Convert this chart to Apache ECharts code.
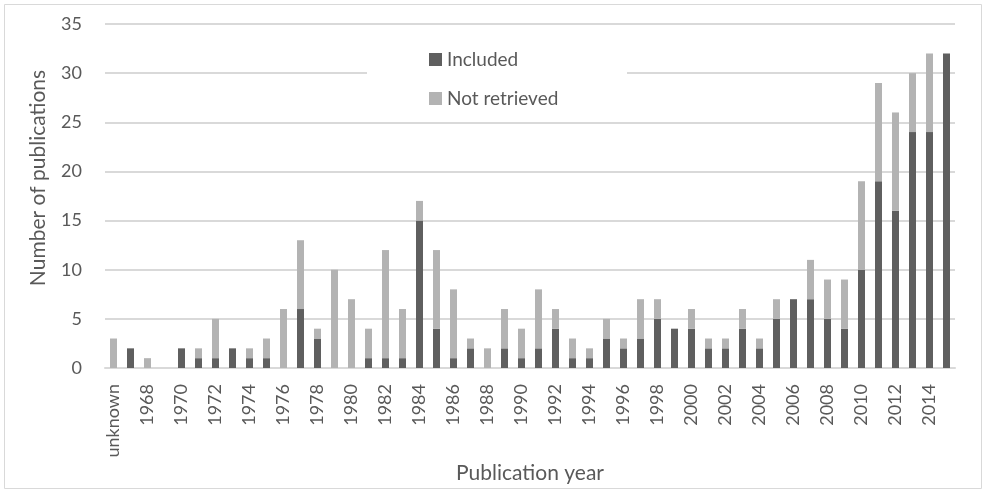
<!DOCTYPE html>
<html><head><meta charset="utf-8">
<script src="https://cdn.jsdelivr.net/npm/echarts@6/dist/echarts.min.js"></script>
<style>html,body{margin:0;padding:0;background:#fff}#c{width:982px;height:489px}</style>
</head><body><div id="c"></div>
<script>
const categories = ['unknown','1967','1968','1969','1970','1971','1972','1973','1974','1975','1976','1977','1978','1979','1980','1981','1982','1983','1984','1985','1986','1987','1988','1989','1990','1991','1992','1993','1994','1995','1996','1997','1998','1999','2000','2001','2002','2003','2004','2005','2006','2007','2008','2009','2010','2011','2012','2013','2014','2015'];
const included     = [0,2,0,0,2,1,1,2,1,1,0,6,3,0,0,1,1,1,15,4,1,2,0,2,1,2,4,1,1,3,2,3,5,4,4,2,2,4,2,5,7,7,5,4,10,19,16,24,24,32];
const notRetrieved = [3,0,1,0,0,1,4,0,1,2,6,7,1,10,7,3,11,5,2,8,7,1,2,4,3,6,2,2,1,2,1,4,2,0,2,1,1,2,1,2,0,4,4,5,9,10,10,6,8,0];
const yTicks = [0,5,10,15,20,25,30,35];
const xTitle = 'Publication year';
const yTitle = 'Number of publications';

const FONT = 'Lato';
const chart = echarts.init(document.getElementById('c'), null, {renderer:'canvas'});
chart.setOption({
  animation:false,
  textStyle:{fontFamily:FONT},
  graphic:[
    {type:'rect', left:2, top:2, shape:{width:977, height:484}, style:{fill:'none', stroke:'#d9d9d9', lineWidth:1}, z:-1},
    {type:'rect', left:367, top:34, shape:{width:260, height:80}, style:{fill:'#fff'}, z:5},
    {type:'text', x:38, y:178, rotation:Math.PI/2, style:{text:yTitle, font:'21px Lato', fill:'#595959', textAlign:'center', textVerticalAlign:'middle'}, z:10},
    {type:'text', x:530, y:473, style:{text:xTitle, font:'21px Lato', fill:'#595959', textAlign:'center', textVerticalAlign:'middle'}, z:10}
  ],
  legend:{
    orient:'vertical', left:424, top:45, itemGap:20, itemWidth:13, itemHeight:13, icon:'rect', z:10,
    textStyle:{fontFamily:FONT, fontSize:19, color:'#595959'},
    data:['Included','Not retrieved']
  },
  grid:{left:105, right:27, top:24, bottom:121, containLabel:false},
  xAxis:{
    type:'category', data:categories,
    axisLine:{show:true, lineStyle:{color:'#d9d9d9', width:2}},
    axisTick:{show:false},
    axisLabel:{interval:1, rotate:90, margin:16, fontFamily:FONT, fontSize:18, color:'#595959'}
  },
  yAxis:{
    type:'value', min:0, max:35, interval:5,
    axisLine:{show:false}, axisTick:{show:false},
    axisLabel:{margin:23, fontFamily:FONT, fontSize:18, color:'#595959', formatter:v=>yTicks.includes(v)?String(v):''},
    splitLine:{lineStyle:{color:'#d9d9d9', width:2}}
  },
  series:[
    {name:'Included', type:'bar', stack:'s', data:included, barWidth:7, itemStyle:{color:'#5f5f5f'}},
    {name:'Not retrieved', type:'bar', stack:'s', data:notRetrieved, barWidth:7, itemStyle:{color:'#b3b3b3'}}
  ]
});
</script></body></html>
